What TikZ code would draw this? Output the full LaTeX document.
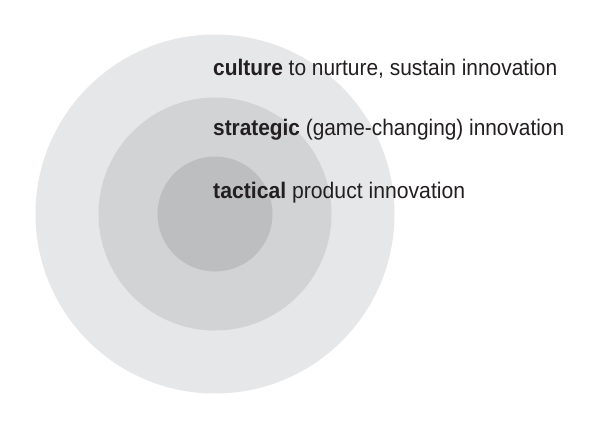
\documentclass[tikz,border=0pt]{standalone}
\usepackage{fontspec}
\setmainfont{Liberation Sans}
\usepackage{graphicx}
\definecolor{ringA}{HTML}{E6E7E8}
\definecolor{ringB}{HTML}{D1D3D4}
\definecolor{ringC}{HTML}{BCBEC0}
\definecolor{txt}{HTML}{231F20}
\begin{document}
\begin{tikzpicture}[x=1pt,y=-1pt,
  ring/.style={circle,inner sep=0pt,outer sep=0pt,draw=none},
  label/.style={anchor=base west,inner sep=0pt,text=txt,font=\fontsize{22.5}{26}\selectfont}]
\useasboundingbox (0,0) rectangle (605,429);
\fill[white] (0,0) rectangle (605,429);
\node[ring,fill=ringA,minimum size=359pt] (outer) at (215,214) {};
\node[ring,fill=ringB,minimum size=233pt] (middle) at (215,214) {};
\node[ring,fill=ringC,minimum size=115pt] (inner) at (215,214) {};
\node[label] (culture) at (213,75.5) {\resizebox{344pt}{\height}{\textbf{culture} to nurture, sustain innovation}};
\node[label] (strategic) at (213,135.5) {\resizebox{351pt}{\height}{\textbf{strategic} (game-changing) innovation}};
\node[label] (tactical) at (213,198.5) {\resizebox{252pt}{\height}{\textbf{tactical} product innovation}};
\end{tikzpicture}
\end{document}
